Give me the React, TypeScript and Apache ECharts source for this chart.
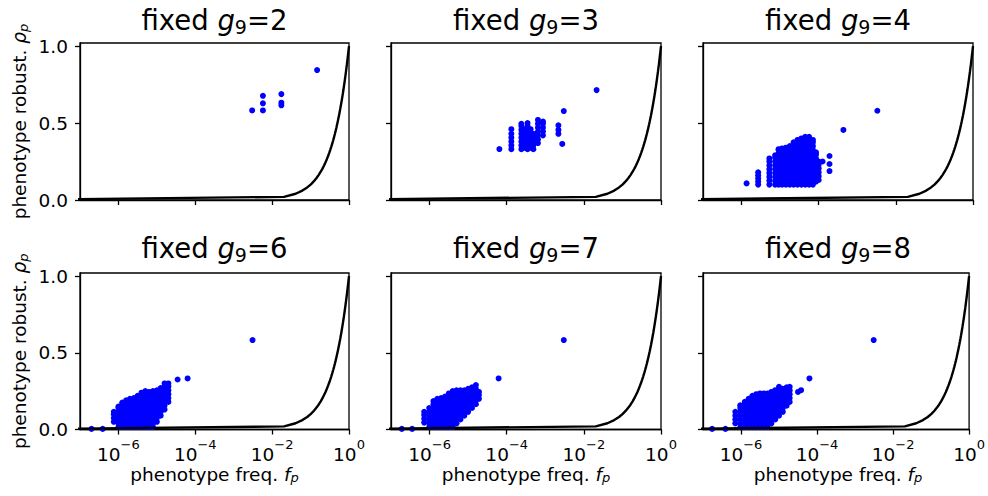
import React, { useEffect, useRef } from "react";
import * as echarts from "echarts";

const FONT = '"DejaVu Sans", sans-serif';

// Fixed value of g9 for each panel (row-major, 2 x 3)
const fixedG9 = [2, 3, 4, 6, 7, 8];

// Each column: [log10 of phenotype freq. f_p, robustness ρ_p values ...]
const g2Columns: number[][] = [
  [-2.52, 0.582],
  [-2.24, 0.677, 0.628, 0.582],
  [-1.76, 0.688, 0.632, 0.615],
  [-0.83, 0.844],
];

const g3Columns: number[][] = [
  [-4.19, 0.331],
  [-3.88, 0.33, 0.355, 0.38, 0.405, 0.43, 0.46],
  [-3.62, 0.33, 0.355, 0.38, 0.405, 0.43, 0.455, 0.48, 0.495],
  [-3.54, 0.34, 0.37, 0.4, 0.43, 0.46],
  [-3.46, 0.33, 0.355, 0.38, 0.405, 0.43, 0.455, 0.48, 0.5],
  [-3.38, 0.34, 0.37, 0.4, 0.43, 0.46],
  [-3.31, 0.33, 0.355, 0.38, 0.405, 0.43],
  [-3.19, 0.37, 0.395, 0.42, 0.445, 0.47, 0.495, 0.52],
  [-3.06, 0.42, 0.445, 0.47, 0.495, 0.51],
  [-2.66, 0.43, 0.455, 0.485],
  [-2.56, 0.364],
  [-2.52, 0.578],
  [-1.67, 0.714],
];

const g4Columns: number[][] = [
  [-5.87, 0.108],
  [-5.57, 0.1, 0.12, 0.14, 0.16, 0.18],
  [-5.28, 0.1, 0.125, 0.15, 0.175, 0.2, 0.225, 0.25, 0.27],
  [-5.13, 0.1, 0.125, 0.15, 0.175, 0.2, 0.225, 0.25, 0.275, 0.29],
  [-5.04, 0.1, 0.125, 0.15, 0.175, 0.2, 0.225, 0.25, 0.275, 0.3, 0.325, 0.33],
  [-4.95, 0.1, 0.125, 0.15, 0.175, 0.2, 0.225, 0.25, 0.275, 0.3, 0.325, 0.335],
  [-4.85, 0.1, 0.125, 0.15, 0.175, 0.2, 0.225, 0.25, 0.275, 0.3, 0.325, 0.34],
  [-4.75, 0.1, 0.125, 0.15, 0.175, 0.2, 0.225, 0.25, 0.275, 0.3, 0.325, 0.35],
  [-4.65, 0.1, 0.125, 0.15, 0.175, 0.2, 0.225, 0.25, 0.275, 0.3, 0.325, 0.35, 0.375],
  [-4.55, 0.1, 0.125, 0.15, 0.175, 0.2, 0.225, 0.25, 0.275, 0.3, 0.325, 0.35, 0.375, 0.39],
  [-4.45, 0.1, 0.125, 0.15, 0.175, 0.2, 0.225, 0.25, 0.275, 0.3, 0.325, 0.35, 0.375, 0.4],
  [-4.35, 0.1, 0.125, 0.15, 0.175, 0.2, 0.225, 0.25, 0.275, 0.3, 0.325, 0.35, 0.375, 0.4, 0.41],
  [-4.25, 0.1, 0.125, 0.15, 0.175, 0.2, 0.225, 0.25, 0.275, 0.3, 0.325, 0.35, 0.375, 0.4, 0.41],
  [-4.15, 0.1, 0.125, 0.15, 0.175, 0.2, 0.225, 0.25, 0.275, 0.3, 0.325, 0.35, 0.375, 0.39],
  [-4.07, 0.12, 0.145, 0.17, 0.195, 0.22, 0.245, 0.27, 0.295, 0.31],
  [-4.0, 0.13, 0.155, 0.18, 0.205, 0.23, 0.25],
  [-3.9, 0.25],
  [-3.72, 0.286, 0.234, 0.188],
  [-3.36, 0.455],
  [-2.48, 0.58],
];

const g6Columns: number[][] = [
  [-6.7, 0.004],
  [-6.41, 0.004],
  [-6.12, 0.05, 0.075, 0.1, 0.115],
  [-6.0, 0.015, 0.04, 0.065, 0.09, 0.115, 0.14, 0.15],
  [-5.9, 0.015, 0.04, 0.065, 0.09, 0.115, 0.14, 0.165, 0.175],
  [-5.8, 0.015, 0.04, 0.065, 0.09, 0.115, 0.14, 0.165, 0.19],
  [-5.7, 0.015, 0.04, 0.065, 0.09, 0.115, 0.14, 0.165, 0.19, 0.2],
  [-5.6, 0.015, 0.04, 0.065, 0.09, 0.115, 0.14, 0.165, 0.19, 0.205],
  [-5.5, 0.015, 0.04, 0.065, 0.09, 0.115, 0.14, 0.165, 0.19, 0.215, 0.22],
  [-5.4, 0.015, 0.04, 0.065, 0.09, 0.115, 0.14, 0.165, 0.19, 0.215, 0.24],
  [-5.3, 0.015, 0.04, 0.065, 0.09, 0.115, 0.14, 0.165, 0.19, 0.215, 0.24, 0.25],
  [-5.2, 0.015, 0.04, 0.065, 0.09, 0.115, 0.14, 0.165, 0.19, 0.215, 0.24, 0.245],
  [-5.1, 0.015, 0.04, 0.065, 0.09, 0.115, 0.14, 0.165, 0.19, 0.215, 0.24, 0.25],
  [-5.0, 0.05, 0.075, 0.1, 0.125, 0.15, 0.175, 0.2, 0.225, 0.25, 0.255],
  [-4.9, 0.09, 0.115, 0.14, 0.165, 0.19, 0.215, 0.24, 0.265, 0.27],
  [-4.8, 0.13, 0.155, 0.18, 0.205, 0.23, 0.255, 0.28, 0.3],
  [-4.7, 0.18, 0.205, 0.23, 0.255, 0.28, 0.3],
  [-4.46, 0.326],
  [-4.2, 0.333],
  [-2.51, 0.583],
];

const g7Columns: number[][] = [
  [-6.72, 0.004],
  [-6.45, 0.004],
  [-6.14, 0.045, 0.07, 0.095, 0.115],
  [-6.01, 0.015, 0.04, 0.065, 0.09, 0.115, 0.14],
  [-5.9, 0.015, 0.04, 0.065, 0.09, 0.115, 0.14, 0.165, 0.185],
  [-5.8, 0.015, 0.04, 0.065, 0.09, 0.115, 0.14, 0.165, 0.19, 0.2],
  [-5.7, 0.015, 0.04, 0.065, 0.09, 0.115, 0.14, 0.165, 0.19, 0.205],
  [-5.6, 0.015, 0.04, 0.065, 0.09, 0.115, 0.14, 0.165, 0.19, 0.215],
  [-5.5, 0.015, 0.04, 0.065, 0.09, 0.115, 0.14, 0.165, 0.19, 0.215, 0.235],
  [-5.4, 0.015, 0.04, 0.065, 0.09, 0.115, 0.14, 0.165, 0.19, 0.215, 0.24, 0.25],
  [-5.3, 0.04, 0.065, 0.09, 0.115, 0.14, 0.165, 0.19, 0.215, 0.24, 0.255],
  [-5.2, 0.065, 0.09, 0.115, 0.14, 0.165, 0.19, 0.215, 0.24, 0.255],
  [-5.1, 0.09, 0.115, 0.14, 0.165, 0.19, 0.215, 0.24, 0.255],
  [-5.0, 0.115, 0.14, 0.165, 0.19, 0.215, 0.24, 0.265],
  [-4.9, 0.14, 0.165, 0.19, 0.215, 0.24, 0.265, 0.275],
  [-4.8, 0.165, 0.19, 0.215, 0.24, 0.265, 0.29],
  [-4.72, 0.2, 0.225, 0.245],
  [-4.21, 0.333],
  [-2.52, 0.583],
];

const g8Columns: number[][] = [
  [-6.76, 0.004],
  [-6.41, 0.004],
  [-6.15, 0.04, 0.065, 0.09, 0.115],
  [-6.02, 0.015, 0.04, 0.065, 0.09, 0.115, 0.14, 0.158],
  [-5.9, 0.015, 0.04, 0.065, 0.09, 0.115, 0.14, 0.165, 0.18],
  [-5.8, 0.015, 0.04, 0.065, 0.09, 0.115, 0.14, 0.165, 0.19, 0.2],
  [-5.7, 0.015, 0.04, 0.065, 0.09, 0.115, 0.14, 0.165, 0.19, 0.215, 0.22],
  [-5.6, 0.015, 0.04, 0.065, 0.09, 0.115, 0.14, 0.165, 0.19, 0.215, 0.23],
  [-5.5, 0.015, 0.04, 0.065, 0.09, 0.115, 0.14, 0.165, 0.19, 0.215, 0.235],
  [-5.4, 0.015, 0.04, 0.065, 0.09, 0.115, 0.14, 0.165, 0.19, 0.215, 0.235],
  [-5.3, 0.015, 0.04, 0.065, 0.09, 0.115, 0.14, 0.165, 0.19, 0.215, 0.235],
  [-5.2, 0.04, 0.065, 0.09, 0.115, 0.14, 0.165, 0.19, 0.215, 0.24, 0.245],
  [-5.1, 0.065, 0.09, 0.115, 0.14, 0.165, 0.19, 0.215, 0.24, 0.256],
  [-5.0, 0.09, 0.115, 0.14, 0.165, 0.19, 0.215, 0.24, 0.265, 0.278],
  [-4.9, 0.115, 0.14, 0.165, 0.19, 0.215, 0.24, 0.265],
  [-4.8, 0.155, 0.18, 0.205, 0.23, 0.255, 0.275],
  [-4.72, 0.18, 0.205, 0.23, 0.255, 0.278],
  [-4.5, 0.245],
  [-4.42, 0.256],
  [-4.2, 0.333],
  [-2.51, 0.583],
];

const panelColumns = [g2Columns, g3Columns, g4Columns, g6Columns, g7Columns, g8Columns];

// Axis ticks (x in powers of ten)
const xTickExponents = [-6, -4, -2, 0];
const yTickValues = [0, 0.5, 1.0];
const X_MIN = -7;
const X_MAX = 0;
const Y_MAX = 1.02;

// Reference line ρ_p = f_p, sampled at evenly spaced frequencies from F_MIN to 1
const NULL_SAMPLES = 50;
const F_MIN = 1e-9;
const nullFreqs = Array.from(
  { length: NULL_SAMPLES },
  (_, i) => F_MIN + ((1 - F_MIN) * i) / (NULL_SAMPLES - 1)
);

// Layout of the 2 x 3 panel grid (px)
const colLeft = [80, 391, 703];
const colWidth = [269, 270, 270];
const rowTop = [43, 273];
const rowHeight = [157, 156.5];

const AXIS_COLOR = "#000";
const SPINE = 1.3;

function buildOption() {
  const grids: any[] = [];
  const xAxes: any[] = [];
  const yAxes: any[] = [];
  const series: any[] = [];
  const graphics: any[] = [];

  const nullLine = nullFreqs.map((f) => [Math.log10(f), f]);

  panelColumns.forEach((cols, i) => {
    const r = Math.floor(i / 3);
    const c = i % 3;
    grids.push({
      left: colLeft[c],
      top: rowTop[r],
      width: colWidth[c],
      height: rowHeight[r],
      show: true,
      borderColor: AXIS_COLOR,
      borderWidth: SPINE,
      backgroundColor: "transparent",
      containLabel: false,
    });
    xAxes.push({
      gridIndex: i,
      type: "value",
      min: X_MIN,
      max: X_MAX,
      splitLine: { show: false },
      axisLine: { show: true, onZero: false, lineStyle: { color: AXIS_COLOR, width: SPINE } },
      axisTick: {
        show: true,
        customValues: xTickExponents,
        length: 5,
        lineStyle: { color: AXIS_COLOR, width: SPINE },
      },
      axisLabel: {
        show: r === 1,
        customValues: xTickExponents,
        margin: 10.5,
        color: "#000",
        fontFamily: FONT,
        fontSize: 18.5,
        lineHeight: 24,
        formatter: (v: number) => `{b|10}{sup|${v < 0 ? "\u2212" + Math.abs(v) : v}}`,
        rich: {
          b: { fontFamily: FONT, fontSize: 18.5, lineHeight: 24, verticalAlign: "bottom", color: "#000" },
          sup: { fontFamily: FONT, fontSize: 13, lineHeight: 8, height: 8, verticalAlign: "top", color: "#000" },
        },
      },
    });
    yAxes.push({
      gridIndex: i,
      type: "value",
      min: 0,
      max: Y_MAX,
      splitLine: { show: false },
      axisLine: { show: true, onZero: false, lineStyle: { color: AXIS_COLOR, width: SPINE } },
      axisTick: {
        show: true,
        customValues: yTickValues,
        length: 5,
        lineStyle: { color: AXIS_COLOR, width: SPINE },
      },
      axisLabel: {
        show: c === 0,
        customValues: yTickValues,
        margin: 12,
        color: "#000",
        fontFamily: FONT,
        fontSize: 18.5,
        formatter: (v: number) => v.toFixed(1),
      },
    });

    const points: number[][] = [];
    cols.forEach(([lf, ...rhos]) => rhos.forEach((rho) => points.push([lf, rho])));
    series.push({
      type: "scatter",
      xAxisIndex: i,
      yAxisIndex: i,
      data: points,
      symbol: "circle",
      symbolSize: 6,
      itemStyle: { color: "#0000ff", opacity: 1 },
      clip: true,
      silent: true,
    });
    series.push({
      type: "line",
      xAxisIndex: i,
      yAxisIndex: i,
      data: nullLine,
      showSymbol: false,
      symbol: "none",
      smooth: false,
      clip: true,
      lineStyle: { color: "#000", width: 2.4 },
      silent: true,
    });

    // panel title
    graphics.push({
      type: "text",
      x: colLeft[c] + colWidth[c] / 2,
      y: r === 0 ? 20 : 248,
      style: {
        text: `fixed {g|g}{n|9}=${fixedG9[i]}`,
        fontFamily: FONT,
        fontSize: 27.5,
        lineHeight: 33,
        fill: "#000",
        align: "center",
        verticalAlign: "middle",
        rich: {
          g: { fontFamily: FONT, fontSize: 27.5, lineHeight: 33, fontStyle: "italic", fill: "#000" },
          n: { fontFamily: FONT, fontSize: 19, lineHeight: 21, verticalAlign: "bottom", fill: "#000" },
        },
      },
    });
  });

  // y-axis labels (one per row)
  rowTop.forEach((top, r) => {
    graphics.push({
      type: "text",
      x: 19,
      y: top + rowHeight[r] / 2,
      rotation: Math.PI / 2,
      style: {
        text: "phenotype robust. {i|\u03c1}{s|p}",
        fontFamily: FONT,
        fontSize: 18.5,
        lineHeight: 22,
        fill: "#000",
        align: "center",
        verticalAlign: "middle",
        rich: {
          i: { fontFamily: FONT, fontSize: 18.5, lineHeight: 22, fontStyle: "italic", fill: "#000" },
          s: { fontFamily: FONT, fontSize: 13, lineHeight: 16, fontStyle: "italic", verticalAlign: "bottom", fill: "#000" },
        },
      },
    });
  });

  // x-axis labels (bottom row)
  colLeft.forEach((left, c) => {
    graphics.push({
      type: "text",
      x: left + colWidth[c] / 2,
      y: 474,
      style: {
        text: "phenotype freq. {i|f}{s|p}",
        fontFamily: FONT,
        fontSize: 18.5,
        lineHeight: 20,
        fill: "#000",
        align: "center",
        verticalAlign: "middle",
        rich: {
          i: { fontFamily: FONT, fontSize: 18.5, lineHeight: 20, fontStyle: "italic", fill: "#000" },
          s: { fontFamily: FONT, fontSize: 13, lineHeight: 16, fontStyle: "italic", verticalAlign: "bottom", fill: "#000" },
        },
      },
    });
  });

  return {
    animation: false,
    backgroundColor: "#fff",
    grid: grids,
    xAxis: xAxes,
    yAxis: yAxes,
    series,
    graphic: graphics,
  };
}

export default function App() {
  const ref = useRef<HTMLDivElement>(null);
  useEffect(() => {
    if (!ref.current) return;
    const chart = echarts.init(ref.current, undefined, { renderer: "svg" });
    chart.setOption(buildOption() as any);
    return () => chart.dispose();
  }, []);
  return (
    <div
      ref={ref}
      style={{ position: "absolute", left: 0, top: 0, width: 988, height: 496, background: "#fff" }}
    />
  );
}
